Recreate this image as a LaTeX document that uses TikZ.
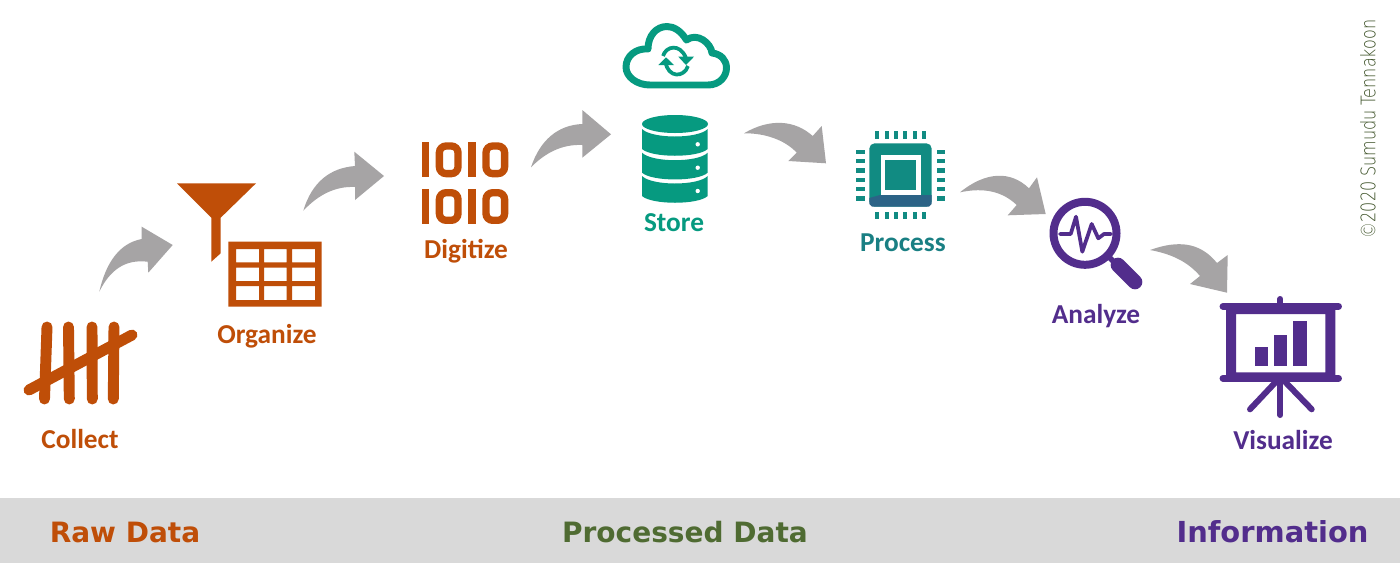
\documentclass[tikz,border=0pt]{standalone}
\usepackage{fontspec}
\setmainfont{Carlito}
\newfontfamily\bandfont{DejaVu Sans}
\newfontfamily\signfont{DejaVu Sans ExtraLight}
\definecolor{rawc}{HTML}{BF4E08}
\definecolor{tealc}{HTML}{069A80}
\definecolor{purc}{HTML}{522D8C}
\definecolor{grayc}{HTML}{A6A4A5}
\definecolor{grnc}{HTML}{4F6B32}
\definecolor{bandc}{HTML}{D9D9D9}
\colorlet{chipc}{tealc!86!purc}
\colorlet{chipd}{tealc!50!purc}
\tikzset{
  flow/.style={fill=grayc,draw=none},
  steplabel/.style={font=\fontsize{20.5}{24}\selectfont\bfseries,inner sep=0pt,anchor=center},
  bandlabel/.style={font=\bandfont\fontsize{21}{24}\selectfont\bfseries,inner sep=0pt,anchor=center},
  rawfill/.style={fill=rawc,draw=none},
  tealfill/.style={fill=tealc,draw=none},
  chipfill/.style={fill=chipc,draw=none},
  purfill/.style={fill=purc,draw=none},
  tally/.style={draw=rawc,line width=8.2pt,line cap=round},
  cloudline/.style={draw=tealc,line width=5.2pt,line join=round},
  purline/.style={draw=purc,line cap=round,line join=round},
}
\begin{document}
\begin{tikzpicture}[x=0.75pt,y=-0.75pt]
\useasboundingbox (0,0) rectangle (1400,572);
\fill[white] (0,0) rectangle (1400,572);
\fill[bandc] (0,498) rectangle (1400,563);
\node[bandlabel,text=rawc] (raw) at (125,532) {Raw Data};
\node[bandlabel,text=grnc] (proc) at (685,532) {Processed Data};
\node[bandlabel,text=purc,font=\bandfont\fontsize{21.7}{24}\selectfont\bfseries] (info) at (1272.5,532) {Information};
% flow arrows
\fill[flow] (99.3,291.7) .. controls (106,262) and (120,243) .. (141.7,239) -- (141.7,226.7) -- (172.7,245) -- (148.3,272.7) -- (147.7,261.7) .. controls (125,259) and (110,270) .. cycle;
\fill[flow] (303.3,210.7) .. controls (312,182) and (330,168) .. (355,166) -- (354.3,151.7) -- (384,176) -- (355,200) -- (355,187) .. controls (335,186) and (318,195) .. cycle;
\fill[flow] (531,167.3) .. controls (540,140) and (558,125) .. (582.3,124) -- (582.3,110) -- (611,134.3) -- (582.3,157.7) -- (582.3,145) .. controls (562,144) and (545,153) .. cycle;
\fill[flow] (744,133.3) .. controls (770,118) and (795,120) .. (812.7,136) -- (821.7,126) -- (826,163.3) -- (788.3,161) -- (796.7,152.7) .. controls (785,140) and (765,133) .. cycle;
\fill[flow] (960,192.3) .. controls (985,172) and (1010,170) .. (1029,188.3) -- (1037,177.3) -- (1045.7,214) -- (1007.7,215.3) -- (1016.7,205) .. controls (1003,192) and (985,187) .. cycle;
\fill[flow] (1150,250) .. controls (1178,240) and (1200,242) .. (1217,263) -- (1227.7,255) -- (1227,292.7) -- (1190,284) -- (1200,276) .. controls (1188,262) and (1172,254) .. cycle;
% tally
\draw[tally] (47,327) -- (44.5,399);
\draw[tally] (68.5,327) -- (69.3,399);
\draw[tally] (92,327) -- (92.3,399);
\draw[tally] (114,327) -- (113.3,399);
\draw[tally] (29,390) -- (132,335);
\node[steplabel,text=rawc] (collect) at (80,439) {Collect};
% funnel + table
\fill[rawfill] (177,183.3) -- (256,183.3) -- (220.7,217.7) -- (220.7,253.3) -- (211.3,261.7) -- (211.3,217.7) -- cycle;
\fill[rawfill,even odd rule] (228.3,241.7) rectangle (321.7,306.7)
  (236,249) rectangle (259,262.3) (264,249) rectangle (286.7,262.3) (292,249) rectangle (315,262.3)
  (236,267.7) rectangle (259,281) (264,267.7) rectangle (286.7,281) (292,267.7) rectangle (315,281)
  (236,286) rectangle (259,300) (264,286) rectangle (286.7,300) (292,286) rectangle (315,300);
\node[steplabel,text=rawc] (organize) at (267,336.5) {Organize};
% digits
\foreach \yy in {142.3,189}{
  \fill[rawfill] (421.7,\yy) rectangle (429,\yy+35);
  \fill[rawfill] (468.3,\yy) rectangle (475.7,\yy+35);
  \draw[rawc,line width=5.5pt,rounded corners=5pt] (439.4,\yy+3.7) rectangle (458,\yy+31.3);
  \draw[rawc,line width=5.5pt,rounded corners=5pt] (486,\yy+3.7) rectangle (504.6,\yy+31.3);
}
\node[steplabel,text=rawc] (digitize) at (466,251.5) {Digitize};
% cloud
\draw[cloudline] (650,85) -- (708,85)
  .. controls (720,85) and (726.5,76) .. (726.5,68)
  .. controls (726.5,60) and (721,54) .. (712,53)
  .. controls (711,43) and (697,32) .. (686.5,40)
  .. controls (681,31) and (674,26.5) .. (667,26.5)
  .. controls (656,26.5) and (648,36) .. (648,49)
  .. controls (636,48) and (626,56) .. (626,67)
  .. controls (626,77) and (637,85) .. (650,85) -- cycle;
\draw[tealc,line width=2.8pt] (663,56) .. controls (666,46) and (680,43) .. (686,58);
\fill[tealfill] (678.3,56.7) -- (694,56.7) -- (686,65) -- cycle;
\draw[tealc,line width=2.8pt] (688,66) .. controls (684,78) and (668,78) .. (665.5,62);
\fill[tealfill] (658.3,65) -- (674,65) -- (666,57.3) -- cycle;
% database
\fill[tealfill] (675,124) ellipse[x radius=33,y radius=9];
\foreach \s/\d in {129/144.3,152.7/167.7,176/191}{
  \fill[tealfill] (642,\s) .. controls (652,\s+10) and (698,\s+10) .. (707.7,\s)
     -- (707.7,\s+20) .. controls (698,\s+29) and (652,\s+29) .. (642,\s+20) -- cycle;
  \fill[white] (697.7,\d) circle[radius=2.2];
}
\node[steplabel,text=tealc] (store) at (674,223) {Store};
% chip
\fill[chipfill] (869.3,143.3) [rounded corners=4pt] rectangle (931.7,206.7);
\fill[chipd] (880,195) -- (931.7,195) -- (931.7,204) -- (929,206.7) -- (872,206.7) -- (869.3,204) -- (869.3,198) -- cycle;
\fill[white] (880.7,155) rectangle (920.7,195);
\fill[chipfill] (885,160) rectangle (916,190);
\foreach \px in {877.3,886.7,896,905.3,914.7,924}{
  \fill[chipfill] (\px-2,131) rectangle (\px+2,139);
  \fill[chipfill] (\px-2,211.7) rectangle (\px+2,219.3);
}
\foreach \py in {151.7,161,170.3,179.7,189,198.3}{
  \fill[chipfill] (856,\py-2.2) rectangle (865,\py+2.2);
  \fill[chipfill] (937,\py-2.2) rectangle (945,\py+2.2);
}
\node[steplabel,text=tealc!75!purc] (process) at (903,243) {Process};
% magnifier
\draw[purline,line width=6pt] (1085,233.3) circle[radius=31.5];
\draw[purline,line width=2.8pt] (1060,234) -- (1070.7,234) -- (1076,216.7) -- (1082.3,251.7) -- (1091.7,224) -- (1098.3,238.3) -- (1104,234) -- (1111,234);
\draw[purline,line width=4pt] (1107,255) -- (1120,268);
\draw[purline,line width=11pt] (1118,265) -- (1135,282);
\node[steplabel,text=purc] (analyze) at (1096,316.5) {Analyze};
% screen
\draw[purline,line width=5.2pt] (1223,306.4) -- (1338.5,306.4);
\draw[purline,line width=5.2pt] (1223,378.3) -- (1338.5,378.3);
\draw[purline,line width=4.5pt] (1280.3,299) -- (1280.3,304);
\fill[purfill,even odd rule] (1226,310) rectangle (1335.3,375) (1236,314) rectangle (1325.3,372.3);
\draw[purline,line width=4.5pt] (1280.3,381) -- (1280.3,415);
\draw[purline,line width=4.5pt] (1276,381.7) -- (1250,409.3);
\draw[purline,line width=4.5pt] (1285,381.7) -- (1311.7,409.3);
\fill[purfill] (1255,346.7) rectangle (1268,365.7);
\fill[purfill] (1274,335) rectangle (1287,365.7);
\fill[purfill] (1293.3,320.7) rectangle (1306.7,365.7);
\node[steplabel,text=purc] (visualize) at (1283,440) {Visualize};
% signature
\node[rotate=90,text=grnc!75!black,inner sep=0pt,font=\signfont\fontsize{15}{17}\selectfont] (sign) at (1368,129) {\scalebox{0.8}[1]{©2020 Sumudu Tennakoon}};
\end{tikzpicture}
\end{document}
